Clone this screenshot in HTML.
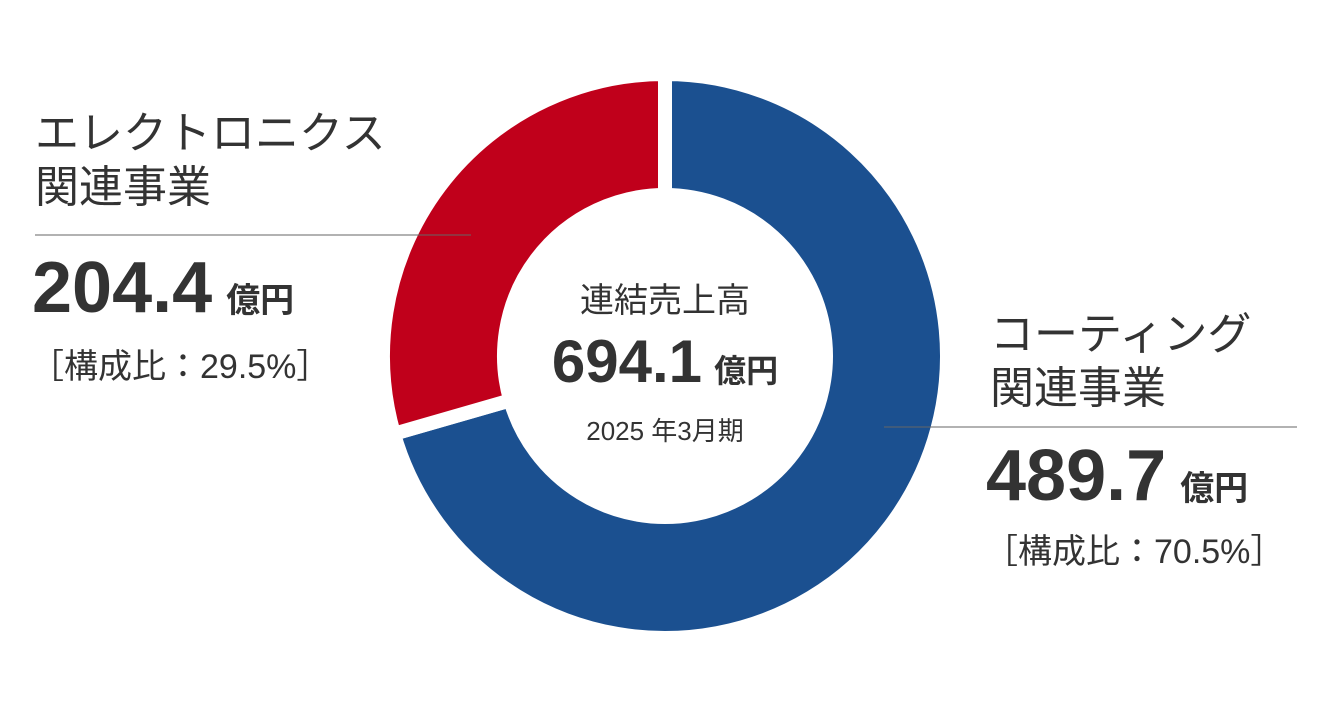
<!DOCTYPE html>
<html><head><meta charset="utf-8">
<style>
body{margin:0;background:#fff;width:1322px;height:703px;overflow:hidden;font-family:"Liberation Sans","Noto Sans CJK JP",sans-serif;color:#333}
svg{position:absolute;left:0;top:0}
.t{position:absolute;white-space:nowrap;line-height:1}
</style></head><body>
<svg width="1322" height="703">
<g id="slices"></g>
<line x1="35" y1="235" x2="471" y2="235" stroke="#666" stroke-width="1"/>
<line x1="884" y1="427" x2="1297" y2="427" stroke="#666" stroke-width="1"/>
</svg>
<div class="t" style="left:35px;top:112px;font-size:44px">エレクトロニクス<br><span style="display:inline-block;margin-top:10px">関連事業</span></div>
<div class="t" style="left:32px;top:252px;font-size:72px;font-weight:bold">204.4<span style="font-size:34px;margin-left:14px">億円</span></div>
<div class="t" style="left:30px;top:350px;font-size:34px">［構成比：29.5%］</div>
<div class="t" style="left:990px;top:313px;font-size:44px">コーティング<br><span style="display:inline-block;margin-top:10px">関連事業</span></div>
<div class="t" style="left:986px;top:440px;font-size:72px;font-weight:bold">489.7<span style="font-size:34px;margin-left:14px">億円</span></div>
<div class="t" style="left:984px;top:535px;font-size:34px">［構成比：70.5%］</div>
<div class="t" style="left:565px;top:284px;font-size:34px;width:200px;text-align:center">連結売上高</div>
<div class="t" style="left:540px;top:332px;font-size:60px;font-weight:bold;width:250px;text-align:center">694.1<span style="font-size:32px;margin-left:12px">億円</span></div>
<div class="t" style="left:540px;top:418px;font-size:26px;width:250px;text-align:center">2025 年3月期</div>
<script>
const categories=["コーティング関連事業","エレクトロニクス関連事業"];
const values=[489.7,204.4];
const colors=["#1b5090","#c0001b"];
const cx=665,cy=356,R=282,r=161;
const total=values.reduce((a,b)=>a+b,0);
const g=document.getElementById('slices');
function pt(a,rad){return [cx+rad*Math.sin(a),cy-rad*Math.cos(a)];}
let a0=0;
values.forEach((v,i)=>{
  const a1=a0+v/total*2*Math.PI;
  const large=(a1-a0)>Math.PI?1:0;
  const p1=pt(a0,R),p2=pt(a1,R),p3=pt(a1,r),p4=pt(a0,r);
  const p=document.createElementNS('http://www.w3.org/2000/svg','path');
  p.setAttribute('d',`M${p1}A${R},${R} 0 ${large} 1 ${p2}L${p3}A${r},${r} 0 ${large} 0 ${p4}Z`);
  p.setAttribute('fill',colors[i]);
  p.setAttribute('stroke','#fff');
  p.setAttribute('stroke-width','14');
  p.setAttribute('stroke-linejoin','miter');
  
  
  g.appendChild(p);
  a0=a1;
});
</script>
</body></html>
